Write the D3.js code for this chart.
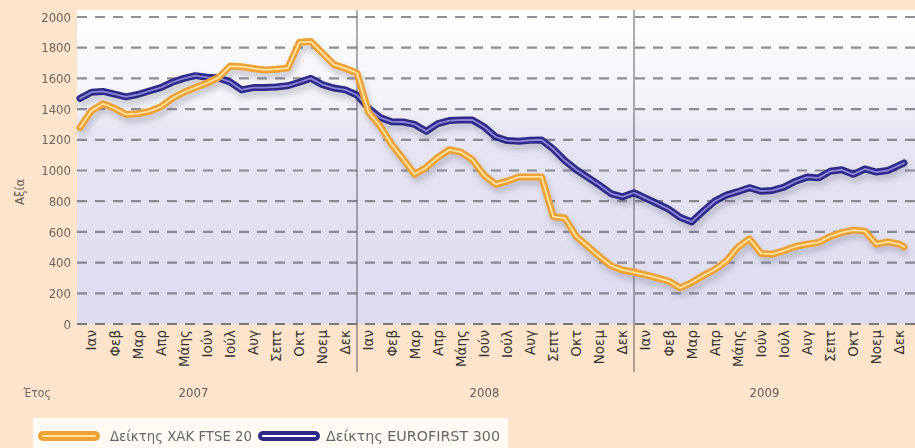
<!DOCTYPE html>
<html><head><meta charset="utf-8">
<script src="https://cdn.jsdelivr.net/npm/d3@7"></script>
<style>html,body{margin:0;padding:0;background:#fde4ca;} svg{display:block}</style>
</head><body><svg id="c" width="915" height="448"></svg>
<script>
// ---- data ----
const months = ["Ιαν","Φεβ","Μαρ","Απρ","Μάης","Ιούν","Ιούλ","Αυγ","Σεπτ","Οκτ","Νοεμ","Δεκ"];
const years = ["2007","2008","2009"];
const yTicks = [0,200,400,600,800,1000,1200,1400,1600,1800,2000];
// time position in months since start of Jan 2007 (half-month steps)
const timePos = [0,0.5,1,1.5,2,2.5,3,3.5,4,4.5,5,5.5,6,6.5,7,7.5,8,8.5,9,9.5,10,10.5,11,11.5,
  12,12.5,13,13.5,14,14.5,15,15.5,16,16.5,17,17.5,18,18.5,19,19.5,20,20.5,21,21.5,22,22.5,23,23.5,
  24,24.5,25,25.5,26,26.5,27,27.5,28,28.5,29,29.5,30,30.5,31,31.5,32,32.5,33,33.5,34,34.5,35,35.5,35.7];
const ftse20 = [1280,1390,1435,1405,1365,1370,1385,1415,1470,1510,1540,1570,1605,1680,1676,1665,1655,1660,1667,1835,1840,1765,1690,1665,
  1635,1380,1290,1170,1075,975,1020,1085,1135,1120,1070,970,910,930,958,958,958,700,690,570,505,440,380,352,
  337,320,300,280,235,270,315,355,410,500,555,460,455,478,505,520,532,570,595,612,605,520,535,520,502];
const eurofirst300 = [1470,1510,1515,1498,1480,1495,1518,1540,1575,1600,1618,1607,1603,1577,1525,1540,1540,1544,1552,1575,1600,1560,1537,1525,
  1492,1405,1345,1318,1316,1300,1255,1305,1325,1329,1329,1285,1220,1195,1190,1197,1199,1140,1065,1005,955,905,850,828,
  855,820,785,748,695,665,735,800,840,862,888,865,870,892,930,957,952,995,1005,975,1010,990,1000,1035,1049];
const seriesNames = ["Δείκτης ΧΑΚ FTSE 20","Δείκτης EUROFIRST 300"];
const yTitle = "Αξία";
const xTitle = "Έτος";

// ---- layout ----
const svg = d3.select("#c");
const W = 915, H = 448;
const plotL = 77, plotR = 915, plotT = 10, plotB = 324;
const x = d3.scaleLinear().domain([0,36]).range([80,911]);
const y = d3.scaleLinear().domain([0,2000]).range([324,17]);

const defs = svg.append("defs");
const bg = defs.append("linearGradient").attr("id","bg").attr("x1",0).attr("x2",0).attr("y1",0).attr("y2",1);
bg.append("stop").attr("offset","0%").attr("stop-color","#ffffff");
bg.append("stop").attr("offset","30%").attr("stop-color","#f3f3fa");
bg.append("stop").attr("offset","38%").attr("stop-color","#e6e6f4");
bg.append("stop").attr("offset","100%").attr("stop-color","#dddcef");
const sh = defs.append("filter").attr("id","shadow").attr("x","-5%").attr("y","-10%").attr("width","110%").attr("height","130%");
sh.append("feDropShadow").attr("dx",2).attr("dy",5).attr("stdDeviation",3).attr("flood-color","#6a6a80").attr("flood-opacity",0.35);
const soft = defs.append("filter").attr("id","soft");
soft.append("feGaussianBlur").attr("stdDeviation",0.35);

svg.append("rect").attr("width",W).attr("height",H).attr("fill","#fde4ca");
svg.append("rect").attr("x",plotL).attr("y",plotT).attr("width",plotR-plotL).attr("height",plotB-plotT).attr("fill","url(#bg)");

// gridlines
svg.append("g").selectAll("line").data(yTicks).join("line")
  .attr("x1",plotL).attr("x2",plotR).attr("y1",d=>y(d)).attr("y2",d=>y(d))
  .attr("stroke",d=>d===0?"#6e6e6e":"#74747c").attr("stroke-width",2.2)
  .attr("stroke-dasharray","10,8").attr("opacity",d=>d===0?0.9:0.8);

// y axis labels
const yAxis = d3.axisLeft(y).tickValues(yTicks).tickSize(0).tickPadding(0).tickFormat(d3.format("d"));
const ya = svg.append("g").attr("transform","translate(71,0)").call(yAxis);
ya.select(".domain").remove();
ya.selectAll("text").attr("font-family","DejaVu Sans Condensed, DejaVu Sans, sans-serif").attr("font-size",13)
  .attr("fill","#6a6660").attr("filter","url(#soft)");

svg.append("text").attr("transform","translate(24,192) rotate(-90)").attr("text-anchor","middle")
  .attr("font-family","DejaVu Sans Condensed, DejaVu Sans, sans-serif").attr("font-size",13).attr("fill","#6a6660").text(yTitle);

// year dividers
svg.append("g").selectAll("line").data([12,24]).join("line")
  .attr("x1",d=>x(d)).attr("x2",d=>x(d)).attr("y1",plotT).attr("y2",372)
  .attr("stroke","#5a5a66").attr("stroke-width",1);

// month labels
const allMonths = [];
years.forEach((yr,yi)=>months.forEach((m,mi)=>allMonths.push({m, t: yi*12+mi+0.5})));
svg.append("g").selectAll("text").data(allMonths).join("text")
  .attr("transform",d=>`translate(${x(d.t)},330) rotate(-90)`)
  .attr("text-anchor","end").attr("dy","0.36em")
  .attr("font-family","DejaVu Sans, sans-serif").attr("font-size",13.5).attr("fill","#333")
  .text(d=>d.m);

// year labels
const yearOffsets = [-25,-11,-8];
svg.append("g").selectAll("text").data(years).join("text")
  .attr("x",(d,i)=>x(i*12+6)+yearOffsets[i]).attr("y",397).attr("text-anchor","middle")
  .attr("font-family","Liberation Sans Narrow, DejaVu Sans Condensed, sans-serif").attr("font-size",13)
  .attr("fill","#5e5e5e").attr("filter","url(#soft)").text(d=>d);
svg.append("text").attr("x",37).attr("y",397).attr("text-anchor","middle")
  .attr("font-family","Liberation Sans Narrow, DejaVu Sans Condensed, sans-serif").attr("font-size",12)
  .attr("fill","#6a6a6a").attr("filter","url(#soft)").text(xTitle);

// lines
const line = d3.line().x((d,i)=>x(timePos[i])).y(d=>y(d)).curve(d3.curveLinear);
const styles = [
  {data: ftse20, outer:"#eea236", inner:"#ffe3a0"},
  {data: eurofirst300, outer:"#2f2a88", inner:"#8b86dc"}
];
const lg = svg.append("g").attr("filter","url(#shadow)");
[styles[1], styles[0]].forEach(s=>{
  lg.append("path").attr("d",line(s.data)).attr("fill","none").attr("stroke",s.outer)
    .attr("stroke-width",7).attr("stroke-linejoin","round").attr("stroke-linecap","round");
  lg.append("path").attr("d",line(s.data)).attr("fill","none").attr("stroke",s.inner)
    .attr("stroke-width",1.8).attr("stroke-linejoin","round").attr("stroke-linecap","round");
});

// legend
const leg = svg.append("g");
leg.append("rect").attr("x",33).attr("y",418).attr("width",475).attr("height",30).attr("fill","#fffaf3");
const legItems = [
  {name: seriesNames[0], outer:"#eea236", inner:"#ffe3a0", sx:38, tx:110, w:142},
  {name: seriesNames[1], outer:"#2f2a88", inner:"#ffffff", sx:258, tx:326, w:174}
];
legItems.forEach(it=>{
  leg.append("rect").attr("x",it.sx).attr("y",431).attr("width",62).attr("height",10).attr("rx",5)
    .attr("fill",it.outer);
  leg.append("line").attr("x1",it.sx+5).attr("x2",it.sx+57).attr("y1",436).attr("y2",436)
    .attr("stroke",it.inner).attr("stroke-width",2.2).attr("stroke-linecap","round");
  leg.append("text").attr("x",it.tx).attr("y",441).attr("font-family","Liberation Sans Narrow, DejaVu Sans Condensed, sans-serif")
    .attr("font-size",14).attr("fill","#666").attr("filter","url(#soft)")
    .attr("textLength",it.w).attr("lengthAdjust","spacingAndGlyphs").text(it.name);
});
</script></body></html>
